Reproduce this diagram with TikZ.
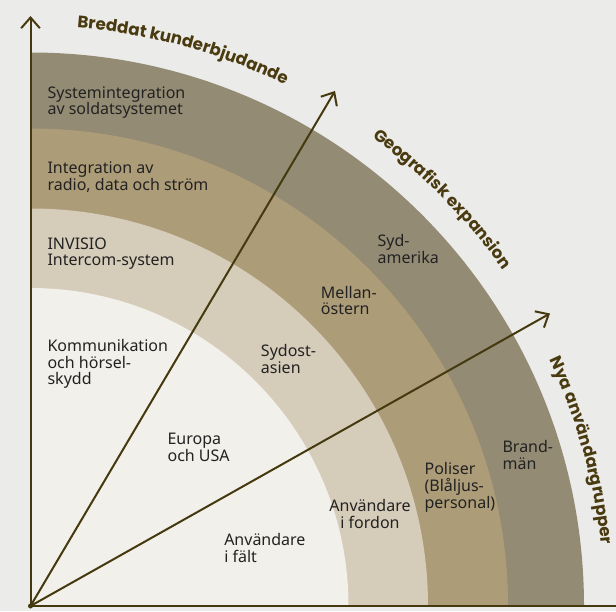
\documentclass[tikz,border=0pt]{standalone}
\usepackage{fontspec}
\setmainfont{Noto Sans}
\newfontfamily\headfont{Poppins}
\usetikzlibrary{arrows.meta,decorations.text}

\definecolor{bgcol}{HTML}{EBEBE9}
\definecolor{ringone}{HTML}{F2F0EA}
\definecolor{ringtwo}{HTML}{D6CCBA}
\definecolor{ringthree}{HTML}{AD9C78}
\definecolor{ringfour}{HTML}{948B74}
\definecolor{axiscol}{HTML}{45390F}
\definecolor{headcol}{HTML}{4A3A10}
\definecolor{txtcol}{HTML}{222222}

\tikzset{
  axisline/.style={draw=axiscol, line width=1.5pt},
  axisarrow/.style={axisline, -{Straight Barb[length=8pt,width=14pt]}},
  bandtext/.style={anchor=north west, inner sep=0pt, align=left, text=txtcol,
    font=\fontsize{12}{12.5}\selectfont},
  headtext/.style={decorate, decoration={text along path, text color=headcol,
    text={|\headfont\bfseries\fontsize{12.5}{14}\selectfont|#1}}}
}

\begin{document}
\begin{tikzpicture}[x=0.75pt,y=0.75pt]
%set diagram: origin of the axes at (0,0)
\useasboundingbox (-30.5,-5) rectangle (585.5,606);
\fill[bgcol] (-30.5,-5) rectangle (585.5,606);

%Rings
\fill[ringfour] (0,0) -- (553.5,0) arc[start angle=0, end angle=90, radius=553.5] -- cycle;
\fill[ringthree] (0,0) -- (477.5,0) arc[start angle=0, end angle=90, radius=477.5] -- cycle;
\fill[ringtwo] (0,0) -- (397.5,0) arc[start angle=0, end angle=90, radius=397.5] -- cycle;
\fill[ringone] (0,0) -- (318,0) arc[start angle=0, end angle=90, radius=318] -- cycle;

\coordinate (O) at (0,0);
\coordinate (up) at (0,590);
\coordinate (right) at (585.5,0);
\coordinate (offer) at (304.5,515);
\coordinate (users) at (519.5,292.5);

%Axes
\draw[axisarrow] (O) -- (up);
\draw[axisline] (O) -- (right);
%Straight Lines
\draw[axisarrow] (O) -- (offer);
%Straight Lines
\draw[axisarrow] (O) -- (users);
\fill[axiscol] (O) circle (2.5);

%Headings
\path[headtext={Breddat kunderbjudande}] (85.4:580) arc[start angle=85.4, end angle=55, radius=580];
\path[headtext={Geografisk expansion}] (53.9:580) arc[start angle=53.9, end angle=28, radius=580];
\path[headtext={Nya användargrupper}] (25.4:574) arc[start angle=25.4, end angle=0, radius=574];

% Text Node
\node[bandtext] (sysint) at (16.8,520) {Systemintegration\\av soldatsystemet};
% Text Node
\node[bandtext] (integ) at (16.8,444.7) {Integration av\\radio, data och ström};
% Text Node
\node[bandtext] (invisio) at (16.8,368.7) {INVISIO\\Intercom-system};
% Text Node
\node[bandtext] (komm) at (16.8,267) {Kommunikation\\och hörsel-\\skydd};
% Text Node
\node[bandtext] (europa) at (136.8,172.7) {Europa\\och USA};
% Text Node
\node[bandtext] (falt) at (193.5,73) {Användare\\i fält};
% Text Node
\node[bandtext] (sydost) at (230.2,262) {Sydost-\\asien};
% Text Node
\node[bandtext, anchor=north, align=center] (fordon) at (339.5,107) {Användare\\i fordon};
% Text Node
\node[bandtext] (poliser) at (393.8,143.7) {Poliser\\(Blåljus-\\personal)};
% Text Node
\node[bandtext] (brand) at (471.8,166) {Brand-\\män};
% Text Node
\node[bandtext] (sydam) at (346.8,372) {Syd-\\amerika};
% Text Node
\node[bandtext] (mellan) at (290.2,320.3) {Mellan-\\östern};

\end{tikzpicture}
\end{document}
